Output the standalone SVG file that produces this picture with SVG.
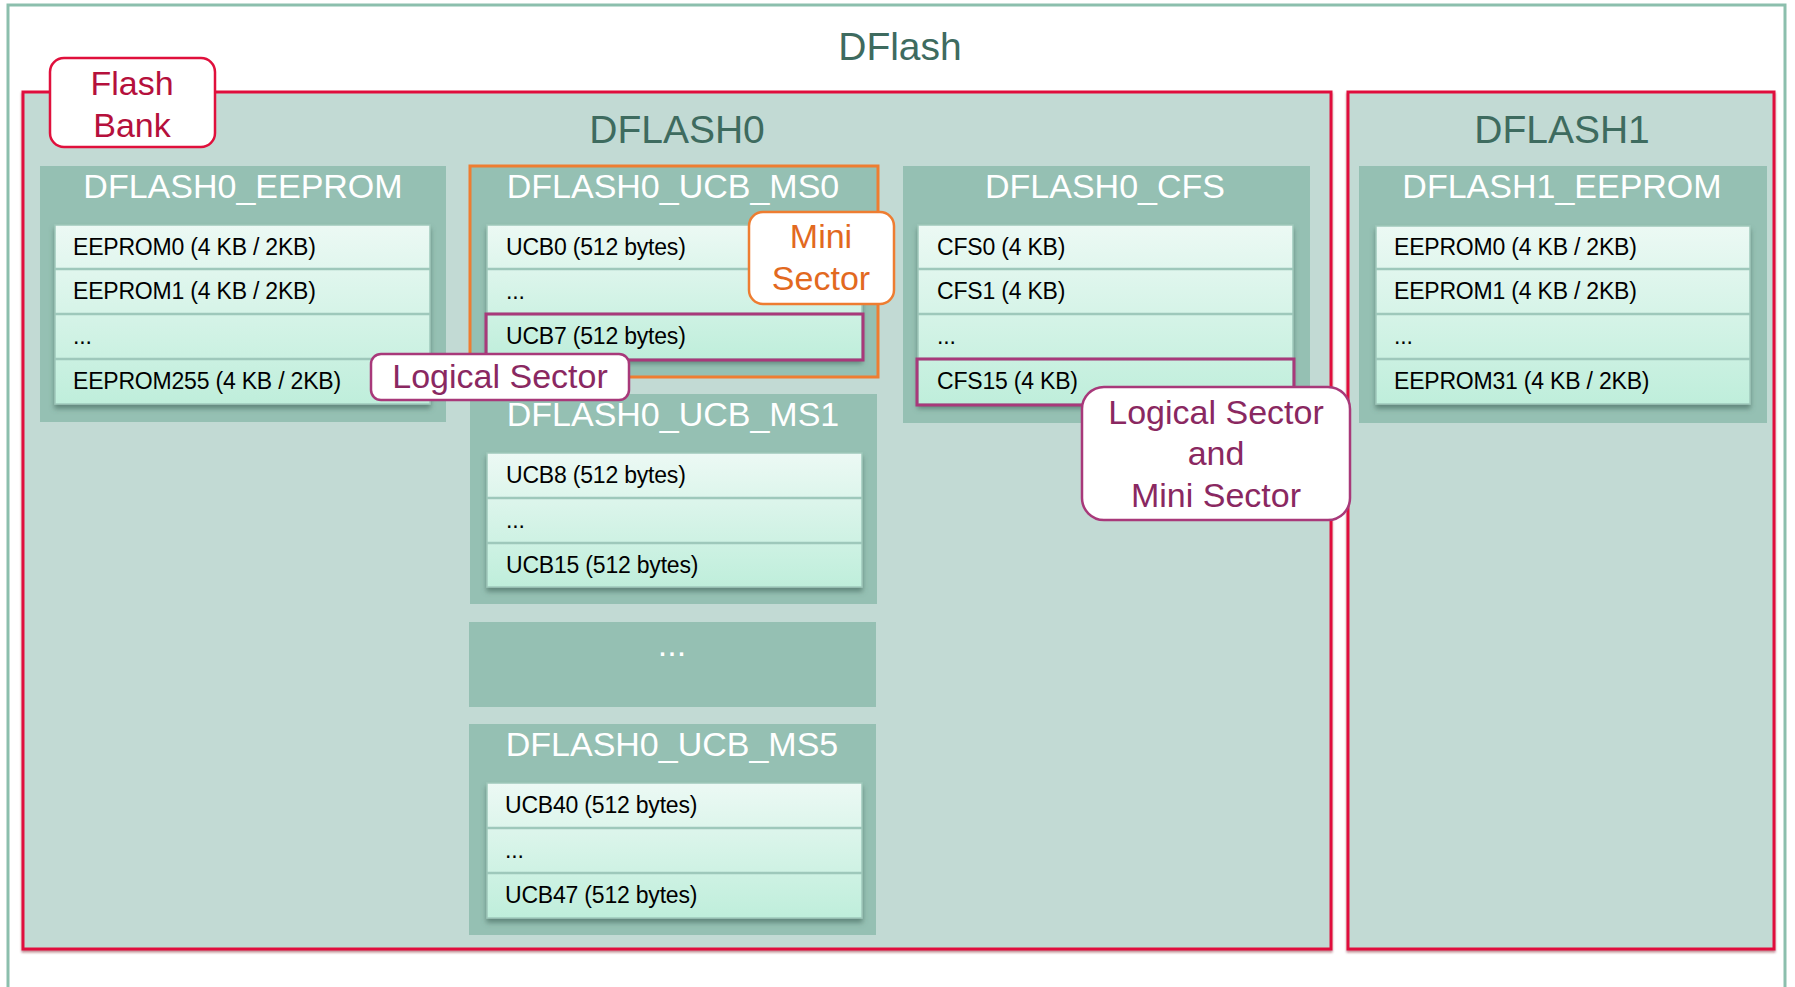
<svg xmlns="http://www.w3.org/2000/svg" width="1795" height="987" viewBox="0 0 1795 987">
<defs>
<linearGradient id="itemGrad" x1="0" y1="0" x2="0" y2="1">
<stop offset="0" stop-color="#ecf9f4"/>
<stop offset="1" stop-color="#bfeedb"/>
</linearGradient>
<filter id="sh" x="-5%" y="-10%" width="110%" height="125%">
<feDropShadow dx="0" dy="4" stdDeviation="2.5" flood-color="#3f6358" flood-opacity="0.6"/>
</filter>
<filter id="bankSh" x="-2%" y="-2%" width="104%" height="104%">
<feDropShadow dx="0" dy="2" stdDeviation="1" flood-color="#7a0a20" flood-opacity="0.5"/>
</filter>
</defs>
<style>
.bank{fill:#c2dad4;stroke:#e0103c;stroke-width:3}
.sub{fill:#95c0b3}
.list{fill:url(#itemGrad);stroke:#9ec8bb;stroke-width:1.5}
.sep{stroke:#9ec8bb;stroke-width:2.5}
.hi{fill:none;stroke:#a8397a;stroke-width:3}
.bigt{font-family:"Liberation Sans",Arial,sans-serif;font-size:39px;fill:#3e6b5f;text-anchor:middle}
.subt{font-family:"Liberation Sans",Arial,sans-serif;font-size:34px;fill:#ffffff;text-anchor:middle}
.it{font-family:"Liberation Sans",Arial,sans-serif;font-size:23px;fill:#000000;letter-spacing:-0.2px}
.call{font-family:"Liberation Sans",Arial,sans-serif;font-size:34px;text-anchor:middle}
</style>
<rect width="1795" height="987" fill="#ffffff"/>
<g id="dflash">
<rect x="8" y="5" width="1777" height="990" fill="#ffffff" stroke="#8cbfad" stroke-width="3"/>
<text class="bigt" x="900" y="60">DFlash</text>
</g>
<g id="dflash0">
<rect class="bank" x="23" y="92" width="1308" height="857" filter="url(#bankSh)"/>
<text class="bigt" x="677" y="143">DFLASH0</text>
</g>
<g id="dflash1">
<rect class="bank" x="1348" y="92" width="426" height="857" filter="url(#bankSh)"/>
<text class="bigt" x="1562" y="143">DFLASH1</text>
</g>
<g id="dflash0_eeprom">
<rect class="sub" x="40" y="166" width="406" height="256"/>
<text class="subt" x="243" y="198">DFLASH0_EEPROM</text>
<rect class="list" x="55" y="225" width="375" height="179" filter="url(#sh)"/>
<line class="sep" x1="55" y1="269" x2="430" y2="269"/>
<line class="sep" x1="55" y1="314" x2="430" y2="314"/>
<line class="sep" x1="55" y1="359" x2="430" y2="359"/>
<text class="it" x="73" y="255">EEPROM0 (4 KB / 2KB)</text>
<text class="it" x="73" y="299">EEPROM1 (4 KB / 2KB)</text>
<text class="it" x="73" y="344">...</text>
<text class="it" x="73" y="389">EEPROM255 (4 KB / 2KB)</text>
</g>
<g id="dflash0_ucb_ms0">
<rect class="sub" x="470" y="166" width="408" height="211" stroke="#ee7d31" stroke-width="3"/>
<text class="subt" x="673" y="198">DFLASH0_UCB_MS0</text>
<rect class="list" x="487" y="225" width="375" height="134" filter="url(#sh)"/>
<line class="sep" x1="487" y1="269" x2="862" y2="269"/>
<line class="sep" x1="487" y1="314" x2="862" y2="314"/>
<text class="it" x="506" y="255">UCB0 (512 bytes)</text>
<text class="it" x="506" y="299">...</text>
<text class="it" x="506" y="344">UCB7 (512 bytes)</text>
<rect class="hi" x="486" y="314" width="377" height="46"/>
</g>
<g id="dflash0_ucb_ms1">
<rect class="sub" x="470" y="394" width="407" height="210"/>
<text class="subt" x="673" y="426">DFLASH0_UCB_MS1</text>
<rect class="list" x="487" y="453" width="375" height="134" filter="url(#sh)"/>
<line class="sep" x1="487" y1="498" x2="862" y2="498"/>
<line class="sep" x1="487" y1="543" x2="862" y2="543"/>
<text class="it" x="506" y="483">UCB8 (512 bytes)</text>
<text class="it" x="506" y="528">...</text>
<text class="it" x="506" y="573">UCB15 (512 bytes)</text>
</g>
<g id="dflash0_ucb_more">
<rect class="sub" x="469" y="622" width="407" height="85"/>
<text class="subt" x="672" y="656">...</text>
</g>
<g id="dflash0_ucb_ms5">
<rect class="sub" x="469" y="724" width="407" height="211"/>
<text class="subt" x="672" y="756">DFLASH0_UCB_MS5</text>
<rect class="list" x="487" y="783" width="375" height="135" filter="url(#sh)"/>
<line class="sep" x1="487" y1="828" x2="862" y2="828"/>
<line class="sep" x1="487" y1="873" x2="862" y2="873"/>
<text class="it" x="505" y="813">UCB40 (512 bytes)</text>
<text class="it" x="505" y="858">...</text>
<text class="it" x="505" y="903">UCB47 (512 bytes)</text>
</g>
<g id="dflash0_cfs">
<rect class="sub" x="903" y="166" width="407" height="257"/>
<text class="subt" x="1105" y="198">DFLASH0_CFS</text>
<rect class="list" x="918" y="225" width="375" height="179" filter="url(#sh)"/>
<line class="sep" x1="918" y1="269" x2="1293" y2="269"/>
<line class="sep" x1="918" y1="314" x2="1293" y2="314"/>
<line class="sep" x1="918" y1="359" x2="1293" y2="359"/>
<text class="it" x="937" y="255">CFS0 (4 KB)</text>
<text class="it" x="937" y="299">CFS1 (4 KB)</text>
<text class="it" x="937" y="344">...</text>
<text class="it" x="937" y="389">CFS15 (4 KB)</text>
<rect class="hi" x="917" y="359" width="377" height="46"/>
</g>
<g id="dflash1_eeprom">
<rect class="sub" x="1359" y="166" width="408" height="257"/>
<text class="subt" x="1562" y="198">DFLASH1_EEPROM</text>
<rect class="list" x="1376" y="226" width="374" height="178" filter="url(#sh)"/>
<line class="sep" x1="1376" y1="269" x2="1750" y2="269"/>
<line class="sep" x1="1376" y1="314" x2="1750" y2="314"/>
<line class="sep" x1="1376" y1="359" x2="1750" y2="359"/>
<text class="it" x="1394" y="255">EEPROM0 (4 KB / 2KB)</text>
<text class="it" x="1394" y="299">EEPROM1 (4 KB / 2KB)</text>
<text class="it" x="1394" y="344">...</text>
<text class="it" x="1394" y="389">EEPROM31 (4 KB / 2KB)</text>
</g>
<g id="callout_flash_bank">
<rect x="50" y="58" width="165" height="89" rx="14" fill="#ffffff" stroke="#e0103c" stroke-width="2.5"/>
<text class="call" x="132" y="95" fill="#b5103c">Flash</text>
<text class="call" x="132" y="137" fill="#b5103c">Bank</text>
</g>
<g id="callout_mini_sector">
<rect x="749" y="212" width="145" height="92" rx="14" fill="#ffffff" stroke="#ee7d31" stroke-width="2.5"/>
<text class="call" x="821" y="248" fill="#e2691f">Mini</text>
<text class="call" x="821" y="290" fill="#e2691f">Sector</text>
</g>
<g id="callout_logical_sector">
<rect x="371" y="354" width="258" height="46" rx="10" fill="#ffffff" stroke="#a8397a" stroke-width="2.5"/>
<text class="call" x="500" y="388" fill="#8a2861">Logical Sector</text>
</g>
<g id="callout_logical_mini">
<rect x="1082" y="387" width="268" height="133" rx="22" fill="#ffffff" stroke="#a8397a" stroke-width="2.5"/>
<text class="call" x="1216" y="424" fill="#8a2861">Logical Sector</text>
<text class="call" x="1216" y="465" fill="#8a2861">and</text>
<text class="call" x="1216" y="507" fill="#8a2861">Mini Sector</text>
</g>
</svg>
